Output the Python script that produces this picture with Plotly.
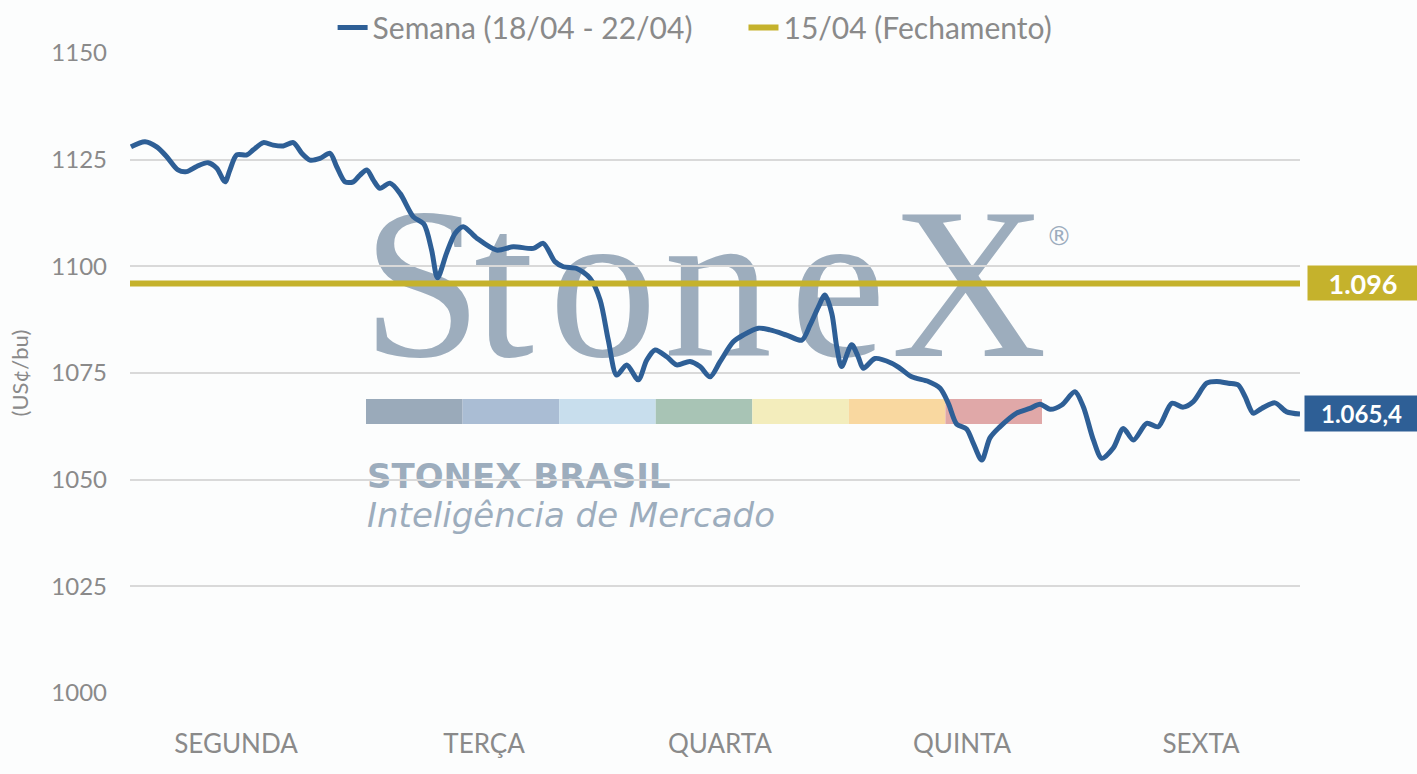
import plotly.graph_objects as go

# ---- data (x in trading days from Monday open, y in US¢/bu) ----
semana_x = [0.004, 0.064, 0.114, 0.157, 0.205, 0.242, 0.285, 0.333, 0.371, 0.406,
            0.427, 0.456, 0.499, 0.527, 0.570, 0.612, 0.655, 0.698, 0.734, 0.769,
            0.812, 0.855, 0.883, 0.919, 0.954, 0.983, 1.012, 1.040, 1.068, 1.111,
            1.154, 1.211, 1.256, 1.289, 1.314, 1.353, 1.389, 1.424, 1.482, 1.567,
            1.638, 1.724, 1.766, 1.816, 1.852, 1.909, 1.966, 2.009, 2.044, 2.080,
            2.123, 2.172, 2.208, 2.244, 2.294, 2.336, 2.393, 2.436, 2.479, 2.521,
            2.578, 2.621, 2.685, 2.735, 2.806, 2.871, 2.906, 2.942, 2.970, 2.999,
            3.020, 3.041, 3.084, 3.112, 3.134, 3.184, 3.255, 3.291, 3.341, 3.412,
            3.462, 3.497, 3.533, 3.575, 3.604, 3.640, 3.675, 3.714, 3.789, 3.846,
            3.889, 3.932, 3.982, 4.038, 4.074, 4.117, 4.153, 4.202, 4.245, 4.288,
            4.345, 4.394, 4.452, 4.501, 4.544, 4.601, 4.644, 4.694, 4.736, 4.765,
            4.800, 4.836, 4.893, 4.943, 5.000]
semana_y = [1128.0, 1129.2, 1128.0, 1125.7, 1122.6, 1122.2, 1123.4, 1124.3, 1123.0, 1119.8,
            1122.6, 1126.1, 1126.1, 1127.3, 1129.0, 1128.4, 1128.2, 1129.0, 1126.5, 1124.9,
            1125.3, 1126.5, 1123.4, 1119.8, 1119.8, 1121.4, 1122.6, 1120.2, 1118.3, 1119.5,
            1117.1, 1111.6, 1109.9, 1103.8, 1097.3, 1103.1, 1107.7, 1109.3, 1106.6, 1103.8,
            1104.6, 1104.2, 1105.4, 1101.1, 1099.9, 1099.5, 1097.2, 1092.1, 1082.7, 1074.5,
            1076.9, 1073.4, 1078.0, 1080.4, 1078.8, 1076.9, 1077.7, 1076.5, 1074.1, 1077.6,
            1082.3, 1083.9, 1085.5, 1085.1, 1083.9, 1082.7, 1086.2, 1090.5, 1093.3, 1089.0,
            1081.2, 1076.5, 1081.6, 1078.8, 1076.1, 1078.4, 1077.3, 1076.1, 1074.1, 1073.0,
            1071.4, 1067.9, 1063.0, 1061.9, 1058.5, 1054.6, 1059.8, 1062.2, 1065.6, 1066.7,
            1067.7, 1066.5, 1067.5, 1070.6, 1067.1, 1059.3, 1055.0, 1057.4, 1062.0, 1059.3,
            1063.2, 1062.4, 1067.9, 1067.0, 1068.3, 1072.6, 1073.0, 1072.6, 1072.2, 1069.5,
            1065.6, 1066.7, 1068.0, 1065.9, 1065.4]
fechamento_value = 1096.0
fechamento_x = [0.0, 5.0]
last_label = "1.065,4"
fech_label = "1.096"

day_labels = ["SEGUNDA", "TERÇA", "QUARTA", "QUINTA", "SEXTA"]
day_label_pos = [0.453, 1.513, 2.521, 3.556, 4.577]
y_ticks = [1000, 1025, 1050, 1075, 1100, 1125, 1150]

series_names = ["Semana (18/04 - 22/04)", "15/04 (Fechamento)"]
blue = "#2e5f96"
gold = "#c5b22c"
wm = "#9dadbd"
grey_txt = "#8a8a8a"
bar_colors = ["#9aaaba", "#aabdd4", "#c8deed", "#a8c4b5", "#f3edbc", "#f9d8a0", "#e0a8a8"]

W, H = 1417, 774
# plot-area geometry (pixels) used for watermark placement
L, R, T, B = 130, 1300, 53, 693
def px(x):
    return (x - L) / (R - L)
def py(y):
    return (B - y) / (B - T)

fig = go.Figure()
fig.add_trace(go.Scatter(
    x=semana_x, y=semana_y, mode="lines", name=series_names[0] + "\u00a0" * 6,
    line=dict(color=blue, width=5, shape="spline", smoothing=0.8),
))
fig.add_trace(go.Scatter(
    x=fechamento_x, y=[fechamento_value] * 2, mode="lines", name=series_names[1],
    line=dict(color=gold, width=6),
))

shapes = []
x0 = 366
seg = (1042 - 366) / len(bar_colors)
for i, c in enumerate(bar_colors):
    shapes.append(dict(type="rect", xref="paper", yref="paper",
                       x0=px(x0 + i * seg), x1=px(x0 + (i + 1) * seg),
                       y0=py(424), y1=py(399), fillcolor=c, line=dict(width=0),
                       layer="below"))

def text_shape(txt, xl, ytop, ybot, size, family, weight="normal", style="normal"):
    return dict(type="rect", xref="paper", yref="paper",
                x0=px(xl), x1=px(xl + 800), y0=py(ybot), y1=py(ytop),
                line=dict(width=0), fillcolor="rgba(0,0,0,0)", layer="below",
                label=dict(text=txt, textposition="middle left", padding=0,
                           font=dict(size=size, family=family, color=wm,
                                     weight=weight, style=style)))

# watermark logo letters (left edges)
logo_letters = ["S", "t", "o", "n", "e", "X"]
logo_left = [359, 471, 546, 661, 787, 888]
for ch, xl in zip(logo_letters, logo_left):
    shapes.append(text_shape(ch, xl, 188, 330, 216, "Liberation Serif"))
shapes.append(text_shape("®", 1043, 224, 244, 26, "DejaVu Sans"))
shapes.append(text_shape("STONEX BRASIL", 364, 462, 486, 34, "DejaVu Sans", weight="bold"))
shapes.append(text_shape("Inteligência de Mercado", 364, 501, 525, 34, "DejaVu Sans",
                         weight=200, style="italic"))

fig.update_layout(
    width=W, height=H,
    margin=dict(l=L, r=W - R, t=T, b=H - B, autoexpand=False),
    paper_bgcolor="#fcfdfd", plot_bgcolor="#fcfdfd",
    shapes=shapes,
    showlegend=True,
    legend=dict(orientation="h", x=0.483, xanchor="center", y=1.04, yanchor="middle",
                font=dict(family="Lato", size=30, color=grey_txt),
                itemwidth=30, tracegroupgap=0, bgcolor="rgba(0,0,0,0)"),
    xaxis=dict(range=[0, 5], tickvals=day_label_pos, ticktext=day_labels,
               showgrid=False, zeroline=False, showline=False, ticks="",
               ticklabelstandoff=33,
               tickfont=dict(family="Lato", size=26, color=grey_txt)),
    yaxis=dict(range=[1000, 1150], tickvals=y_ticks, showgrid=True,
               gridcolor="#d9d9d9", gridwidth=2, zeroline=False, showline=False,
               ticks="", ticklabelstandoff=22,
               tickfont=dict(family="Lato", size=24, color=grey_txt),
               title=dict(text="(US¢/bu)", standoff=16,
                          font=dict(family="Lato", size=22, color=grey_txt))),
    annotations=[
        dict(x=1, xref="paper", xanchor="left", xshift=7, y=fechamento_value, yref="y",
             text="<b>" + fech_label + "</b>", showarrow=False, bgcolor=gold,
             width=104, height=28, borderpad=3, align="center",
             font=dict(family="Lato", size=27, color="white")),
        dict(x=1, xref="paper", xanchor="left", xshift=4, y=semana_y[-1], yref="y",
             text="<b>" + last_label + "</b>", showarrow=False, bgcolor=blue,
             width=107, height=29, borderpad=3, align="center",
             font=dict(family="Lato", size=24, color="white")),
    ],
)

fig.write_html("out.html", config={"displayModeBar": False},
               post_script="document.body.style.margin='0';document.body.style.overflow='hidden';")
